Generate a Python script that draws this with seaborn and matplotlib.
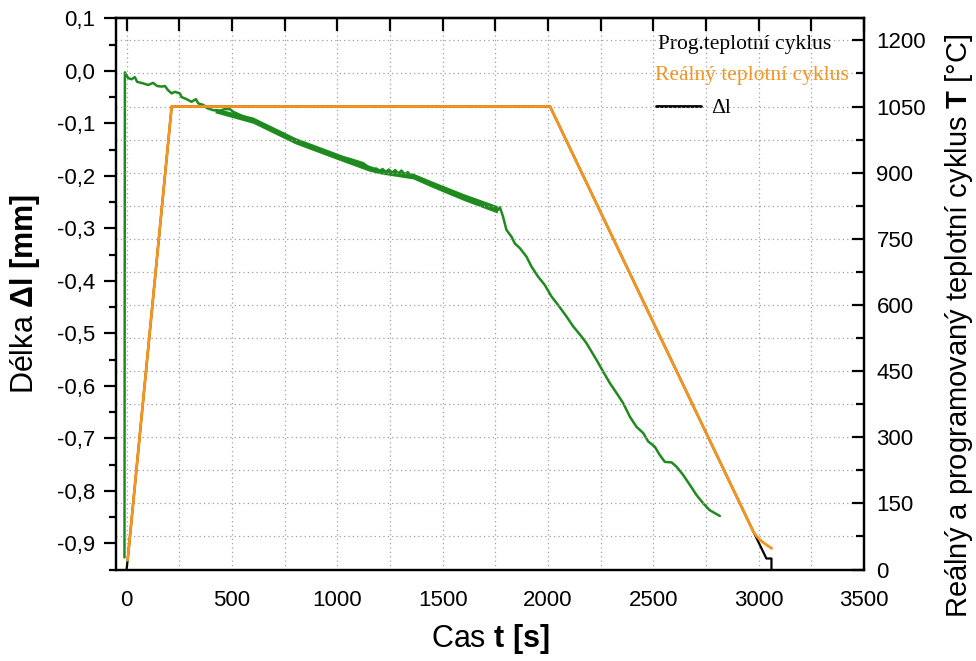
import matplotlib
matplotlib.use("Agg")
import matplotlib.pyplot as plt
import seaborn as sns
import pandas as pd
from matplotlib.ticker import MultipleLocator, FuncFormatter, NullFormatter
from matplotlib.lines import Line2D

# ---- data ----
green_t = [-10, -8, 8, 24, 39, 50, 79, 102, 126, 145, 166, 182, 197, 214, 229, 253, 261, 285, 308, 329,
           340, 364, 382, 411, 443, 466, 490, 506, 538, 570, 601, 633, 680, 728, 791, 854, 917, 980, 1060,
           1123, 1170, 1185, 1200, 1215, 1230, 1245, 1260, 1275, 1290, 1305, 1320, 1335, 1350, 1368, 1440,
           1519, 1597, 1677, 1748, 1764, 1772, 1787, 1803, 1827, 1843, 1867, 1898, 1922, 1953, 1985, 2017,
           2048, 2088, 2120, 2159, 2183, 2207, 2231, 2262, 2294, 2326, 2357, 2389, 2420, 2452, 2476, 2507,
           2531, 2555, 2587, 2610, 2642, 2674, 2705, 2737, 2768, 2816]
green_dl = [-0.927, -0.003, -0.014, -0.016, -0.012, -0.021, -0.024, -0.027, -0.023, -0.029, -0.030, -0.029,
            -0.037, -0.043, -0.040, -0.043, -0.050, -0.054, -0.059, -0.054, -0.062, -0.065, -0.071, -0.075,
            -0.076, -0.073, -0.073, -0.078, -0.084, -0.089, -0.094, -0.100, -0.110, -0.119, -0.132, -0.141,
            -0.151, -0.160, -0.168, -0.176, -0.190, -0.186, -0.193, -0.187, -0.194, -0.188, -0.195, -0.189,
            -0.196, -0.190, -0.198, -0.193, -0.201, -0.202, -0.214, -0.227, -0.240, -0.252, -0.262, -0.265,
            -0.260, -0.278, -0.303, -0.316, -0.329, -0.338, -0.354, -0.373, -0.392, -0.408, -0.430, -0.446,
            -0.468, -0.487, -0.506, -0.519, -0.535, -0.551, -0.573, -0.595, -0.614, -0.633, -0.659, -0.678,
            -0.690, -0.706, -0.716, -0.732, -0.745, -0.746, -0.754, -0.770, -0.789, -0.808, -0.824, -0.837,
            -0.848]

# thick (densely oscillating) band of the Δl record
band_t = [420, 600, 800, 1000, 1150, 1200, 1360, 1450, 1600, 1760]
band_hi = [-0.071, -0.088, -0.127, -0.157, -0.180, -0.186, -0.195, -0.210, -0.234, -0.257]
band_lo = [-0.080, -0.100, -0.139, -0.169, -0.191, -0.196, -0.206, -0.222, -0.247, -0.271]

real_t = [5, 214, 2010, 2975, 2990, 3005, 3020, 3040, 3062]
real_T = [21, 1050, 1050, 86, 76, 68, 62, 55, 48]

prog_t = [0, 5, 214, 2010, 2975, 3037, 3061, 3061]
prog_T = [0, 21, 1050, 1050, 86, 25, 25, 0]

x_label = r"Cas $\mathbf{t\ [s]}$"
yl_label = r"Délka $\mathbf{Δl\ [mm]}$"
yr_label = r"Reálný a programovaný teplotní cyklus $\mathbf{T}$ [°C]"
leg_labels = ["Prog.teplotní cyklus", "Reálný teplotní cyklus", "Δl"]

GREEN = "#1f8b1f"
ORANGE = "#f7941d"

sns.set_theme(style="white")
plt.rcParams["font.family"] = ["Liberation Sans", "DejaVu Sans"]
plt.rcParams["mathtext.fontset"] = "custom"
plt.rcParams["mathtext.rm"] = "Liberation Sans"
plt.rcParams["mathtext.it"] = "Liberation Sans:italic"
plt.rcParams["mathtext.bf"] = "Liberation Sans:bold"
for k in ["text.color", "axes.labelcolor", "xtick.color", "ytick.color"]:
    plt.rcParams[k] = "black"

fig = plt.figure(figsize=(9.76, 6.61), dpi=100)
ax = fig.add_axes([0.1189, 0.1384, 0.7663, 0.8339])
ax2 = ax.twinx()

df_g = pd.DataFrame({"t": green_t, "dl": green_dl})
df_r = pd.DataFrame({"t": real_t, "T": real_T})
df_p = pd.DataFrame({"t": prog_t, "T": prog_T})

ax.fill_between(band_t, band_lo, band_hi, color=GREEN, lw=0, zorder=2)
sns.lineplot(data=df_g, x="t", y="dl", ax=ax, color=GREEN, lw=1.8, sort=False, estimator=None, zorder=3)
sns.lineplot(data=df_p, x="t", y="T", ax=ax2, color="black", lw=1.6, sort=False, estimator=None, zorder=3)
sns.lineplot(data=df_r, x="t", y="T", ax=ax2, color=ORANGE, lw=2.0, sort=False, estimator=None, zorder=4)

ax.set_xlim(-50, 3500)
ax.set_ylim(-0.95, 0.1)
ax2.set_ylim(0, 1250)

ax.xaxis.set_major_locator(MultipleLocator(500))
ax.xaxis.set_minor_locator(MultipleLocator(250))
ax.yaxis.set_major_locator(MultipleLocator(0.1))
ax.yaxis.set_minor_locator(MultipleLocator(0.05))
ax2.yaxis.set_major_locator(MultipleLocator(150))
ax2.yaxis.set_minor_locator(MultipleLocator(75))

def comma(v, pos):
    s = f"{v:.1f}"
    if s == "-0.0":
        s = "0.0"
    return s.replace(".", ",")
ax.yaxis.set_major_formatter(FuncFormatter(comma))

# grid: vertical from x (major+minor), horizontal from right axis (major+minor)
ax.grid(False)
ax2.grid(False)
for v in range(0, 3500, 250):
    ax.axvline(v, color="#a0a0a0", lw=0.9, ls=(0, (1, 2.5)), zorder=0)
for v in range(75, 1250, 75):
    ax2.axhline(v, color="#a0a0a0", lw=0.9, ls=(0, (1, 2.5)), zorder=0)

for sp in list(ax.spines.values()) + list(ax2.spines.values()):
    sp.set_linewidth(1.6)
    sp.set_color("black")

ax.tick_params(axis="x", which="major", direction="out", length=9, width=1.6, labelsize=16, pad=6)
ax.tick_params(axis="x", which="minor", direction="out", length=5, width=1.6)
ax.tick_params(axis="y", which="major", direction="out", length=9, width=1.6, labelsize=16, pad=6)
ax.tick_params(axis="y", which="minor", direction="out", length=5, width=1.6)
ax2.tick_params(axis="y", which="major", direction="in", length=9, width=1.6, labelsize=16, pad=9)
ax2.tick_params(axis="y", which="minor", direction="in", length=6, width=1.6)

# top axis: inward ticks, no labels
sec = ax.secondary_xaxis("top")
sec.xaxis.set_major_locator(MultipleLocator(500))
sec.xaxis.set_minor_locator(MultipleLocator(250))
sec.xaxis.set_major_formatter(NullFormatter())
sec.tick_params(axis="x", which="major", direction="in", length=9, width=1.6)
sec.tick_params(axis="x", which="minor", direction="in", length=9, width=1.6)
sec.spines["top"].set_linewidth(1.6)

ax.set_xlabel(x_label, fontsize=22)
ax.set_ylabel(yl_label, fontsize=22)
ax2.set_ylabel(yr_label, fontsize=21)
ax.xaxis.set_label_coords(0.5, -0.095)
ax.yaxis.set_label_coords(-0.099, 0.5)
ax2.yaxis.set_label_coords(1.106, 0.442)

serif = ["Liberation Serif", "DejaVu Serif"]
ax.text(0.7246, 0.953, leg_labels[0], transform=ax.transAxes, fontsize=15.5, family=serif,
        color="black", va="center", ha="left")
ax.text(0.7206, 0.897, leg_labels[1], transform=ax.transAxes, fontsize=15.5, family=serif,
        color=ORANGE, va="center", ha="left")
leg = ax.legend(handles=[Line2D([], [], color="black", lw=2)], labels=[leg_labels[2]],
                loc="center left", bbox_to_anchor=(0.722, 0.837), frameon=False,
                handlelength=2.1, handletextpad=0.45, borderpad=0, borderaxespad=0,
                prop={"family": serif, "size": 15.5})
ax2.set_zorder(ax.get_zorder() + 1)
ax2.patch.set_visible(False)

fig.savefig("out.png", dpi=100)
